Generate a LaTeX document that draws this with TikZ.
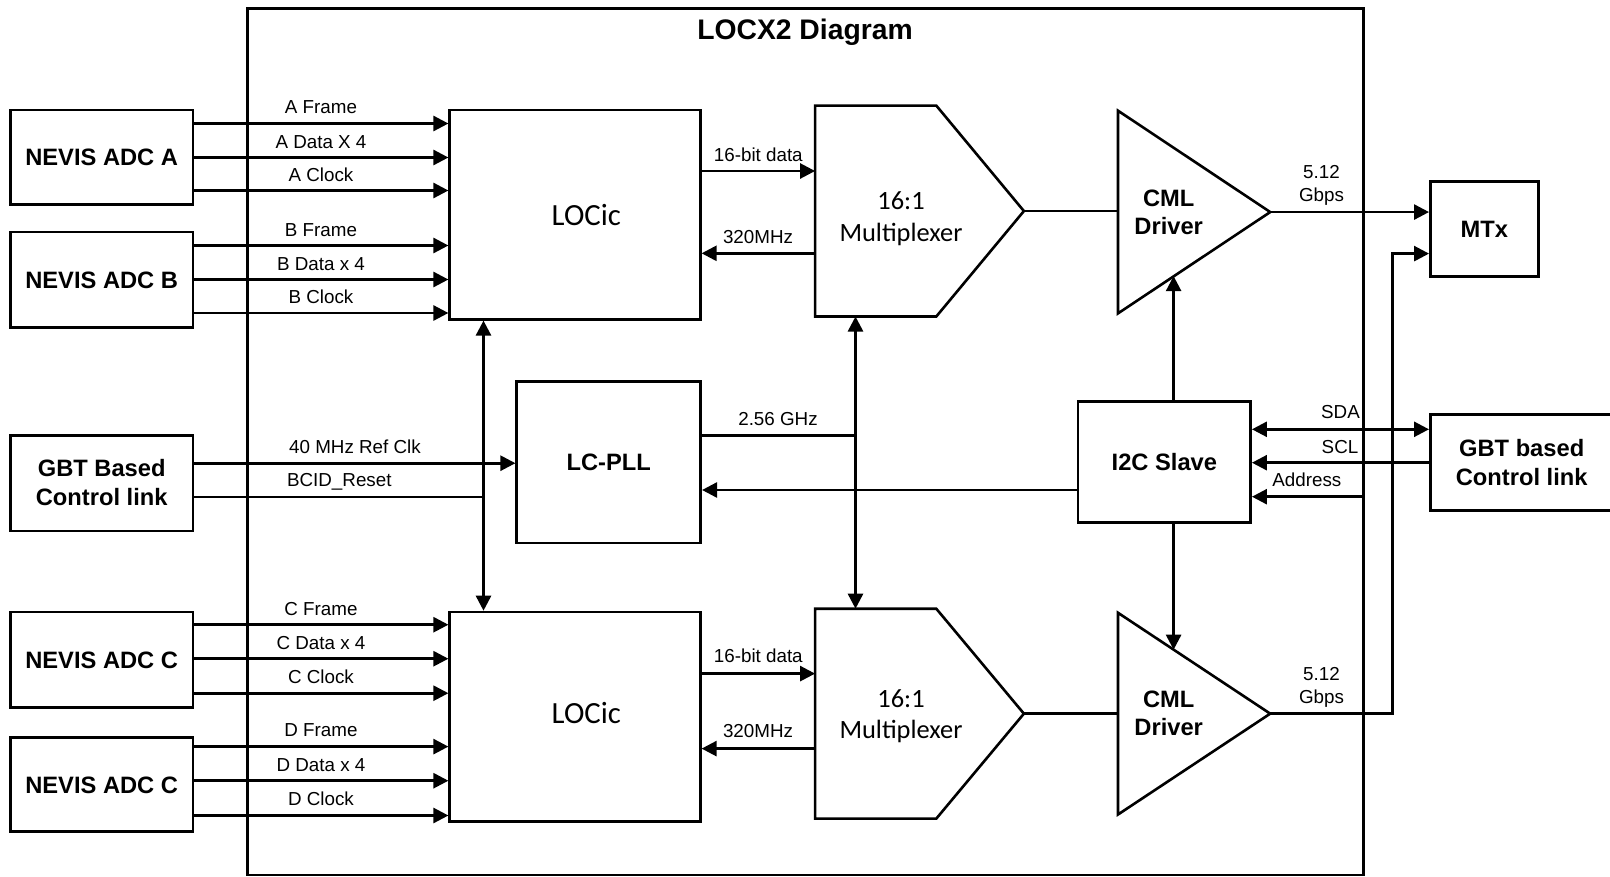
\documentclass[tikz,border=0pt]{standalone}
\usepackage{fontspec}
\setmainfont{Liberation Sans}
\newfontfamily\calibrifont{Carlito}
\usetikzlibrary{arrows.meta,calc}
\tikzset{
  ln/.style={line width=2.6pt},
  conn/.style={ln, -{Triangle[length=15pt,width=15pt]}},
  dconn/.style={ln, {Triangle[length=15pt,width=15pt]}-{Triangle[length=15pt,width=15pt]}},
  lbl/.style={inner sep=0pt, font=\fontsize{18.8}{22}\selectfont, text height=13.5pt, text depth=0pt},
  btxt/.style={inner sep=0pt, font=\fontsize{23.7}{28}\selectfont\bfseries, text height=17pt, text depth=0pt},
  mtxt/.style={inner sep=0pt, font=\fontsize{26.4}{30}\selectfont\calibrifont, text height=17pt, text depth=0pt},
  ltxt/.style={inner sep=0pt, font=\fontsize{30.8}{34}\selectfont\calibrifont, text height=19.8pt, text depth=0pt},
  box/.style={draw, ln, btxt},
  frame/.style={inner sep=0pt},
}
\begin{document}
\begin{tikzpicture}[x=1pt,y=-1pt]
\useasboundingbox (0,0) rectangle (1610,876);
\fill[white] (0,0) rectangle (1610,876);

% chip outline and title
\node[draw, ln, inner sep=0pt, minimum width=1116pt, minimum height=866.8pt] (chip) at (805.5,441.6) {};
\node[btxt, font=\fontsize{28.3}{32}\selectfont\bfseries, text height=20.3pt] (title) at (805,29) {LOCX2 Diagram};

% left boxes
\node[box, minimum width=182.7pt, minimum height=94.4pt] (adcA) at (101.7,157.1) {NEVIS ADC A};
\node[box, minimum width=182.7pt, minimum height=95.6pt] (adcB) at (101.7,279.8) {NEVIS ADC B};
\node[box, minimum width=182.7pt, minimum height=95.5pt] (gbtL) at (101.7,483.2) {};
\node[btxt] (gbtLt1) at (101.7,468.3) {GBT Based};
\node[btxt] (gbtLt2) at (101.7,496.8) {Control link};
\node[box, minimum width=182.7pt, minimum height=95.5pt] (adcC) at (101.7,659.8) {NEVIS ADC C};
\node[box, minimum width=182.7pt, minimum height=94.4pt] (adcD) at (101.7,784.5) {NEVIS ADC C};

% LOCic blocks
\node[box, minimum width=250.6pt, minimum height=209.4pt] (locT) at (575,214.6) {};
\node[ltxt] (locTt) at (586.3,215.6) {LOCic};
\node[box, minimum width=250.6pt, minimum height=209.4pt] (locB) at (575,716.7) {};
\node[ltxt] (locBt) at (586.3,714) {LOCic};

% LC-PLL, I2C, MTx, GBT right
\node[box, minimum width=184pt, minimum height=161.5pt] (pll) at (608.75,462.3) {LC-PLL};
\node[box, minimum width=172.5pt, minimum height=121.1pt] (i2c) at (1164.4,462) {I2C Slave};
\node[box, minimum width=107.9pt, minimum height=94.5pt] (mtx) at (1484.3,229) {MTx};
\node[box, minimum width=200pt, minimum height=95.5pt] (gbtR) at (1530.3,462.5) {};
\node[btxt] (gbtRt1) at (1521.7,448.3) {GBT based};
\node[btxt] (gbtRt2) at (1521.7,476.6) {Control link};

% multiplexers
\node[frame, minimum width=208.4pt, minimum height=210.5pt] (muxT) at (919.5,211.05) {};
\draw[ln] (muxT.north west) -- ++(121.2,0) -- (muxT.east) -- ($(muxT.south west)+(121.2,0)$) -- (muxT.south west) -- cycle;
\node[mtxt] (muxTt1) at (901,201) {16:1};
\node[mtxt] (muxTt2) at (901,233) {Multiplexer};
\node[frame, minimum width=208.4pt, minimum height=209.5pt] (muxB) at (919.5,713.65) {};
\draw[ln] (muxB.north west) -- ++(121.2,0) -- (muxB.east) -- ($(muxB.south west)+(121.2,0)$) -- (muxB.south west) -- cycle;
\node[mtxt] (muxBt1) at (901,698.5) {16:1};
\node[mtxt] (muxBt2) at (901,730) {Multiplexer};

% CML drivers
\node[frame, minimum width=151.8pt, minimum height=202.3pt] (cmlT) at (1194.1,212.05) {};
\draw[ln] (cmlT.north west) -- (cmlT.east) -- (cmlT.south west) -- cycle;
\node[btxt] (cmlTt1) at (1168.7,197.5) {CML};
\node[btxt] (cmlTt2) at (1168.7,226) {Driver};
\node[frame, minimum width=151.8pt, minimum height=201.3pt] (cmlB) at (1194.1,713.65) {};
\draw[ln] (cmlB.north west) -- (cmlB.east) -- (cmlB.south west) -- cycle;
\node[btxt] (cmlBt1) at (1168.7,698.5) {CML};
\node[btxt] (cmlBt2) at (1168.7,727) {Driver};

% ADC -> LOCic connectors
\foreach \y/\n in {123.5/ra1,157.5/ra2,190.5/ra3}{
  \coordinate (\n) at (0,\y);
  \draw[conn] (adcA.east |- \n) -- (locT.west |- \n);}
\foreach \y/\n in {245.5/rb1,279.5/rb2,313/rb3}{
  \coordinate (\n) at (0,\y);
  \draw[conn] (adcB.east |- \n) -- (locT.west |- \n);}
\foreach \y/\n in {624.7/rc1,658.7/rc2,693.2/rc3}{
  \coordinate (\n) at (0,\y);
  \draw[conn] (adcC.east |- \n) -- (locB.west |- \n);}
\foreach \y/\n in {746.6/rd1,780.7/rd2,815.5/rd3}{
  \coordinate (\n) at (0,\y);
  \draw[conn] (adcD.east |- \n) -- (locB.west |- \n);}

\node[lbl] (lA1) at (321,106.7) {A Frame};
\node[lbl] (lA2) at (321,141.7) {A Data X 4};
\node[lbl] (lA3) at (321,175) {A Clock};
\node[lbl] (lB1) at (321,229.5) {B Frame};
\node[lbl] (lB2) at (321,263.5) {B Data x 4};
\node[lbl] (lB3) at (321,297) {B Clock};
\node[lbl] (lC1) at (321,608.5) {C Frame};
\node[lbl] (lC2) at (321,643) {C Data x 4};
\node[lbl] (lC3) at (321,676.5) {C Clock};
\node[lbl] (lD1) at (321,730) {D Frame};
\node[lbl] (lD2) at (321,764.5) {D Data x 4};
\node[lbl] (lD3) at (321,798.5) {D Clock};

% GBT left -> PLL / reset
\coordinate (rclk) at (0,463.2);
\draw[conn] (gbtL.east |- rclk) -- (pll.west |- rclk);
\node[lbl] (lclk) at (355,447) {40 MHz Ref Clk};
\coordinate (vl) at (483.5,496.8);
\draw[ln] (gbtL.east |- vl) -- (vl);
\node[lbl] (lbcid) at (339.3,480) {BCID\_Reset};
\draw[dconn] (locT.south -| vl) -- (locB.north -| vl);

% PLL -> multiplexers
\coordinate (vm) at (855.5,435.7);
\draw[ln] (pll.east |- vm) -- (vm);
\node[lbl] (lghz) at (778,418.3) {2.56 GHz};
\draw[dconn] (muxT.south -| vm) -- (muxB.north -| vm);

% LOCic <-> mux
\coordinate (d16t) at (0,171);
\draw[conn] (locT.east |- d16t) -- (muxT.west |- d16t);
\node[lbl] (l16t) at (758.3,155) {16-bit data};
\coordinate (c320t) at (0,253.3);
\draw[conn] (muxT.west |- c320t) -- (locT.east |- c320t);
\node[lbl] (l320t) at (758,236.7) {320MHz};
\coordinate (d16b) at (0,673.6);
\draw[conn] (locB.east |- d16b) -- (muxB.west |- d16b);
\node[lbl] (l16b) at (758.3,655.3) {16-bit data};
\coordinate (c320b) at (0,748.6);
\draw[conn] (muxB.west |- c320b) -- (locB.east |- c320b);
\node[lbl] (l320b) at (758,730.5) {320MHz};

% mux -> CML
\draw[ln] (muxT.east) -- (muxT.east -| cmlT.west);
\draw[ln] (muxB.east) -- (muxB.east -| cmlB.west);

% CML -> MTx
\draw[conn] (cmlT.east) -- (mtx.west |- cmlT.east);
\node[lbl] (lgT1) at (1321.5,172) {5.12};
\node[lbl] (lgT2) at (1321.5,195) {Gbps};
\coordinate (jct) at (1392.7,253.6);
\draw[conn] (cmlB.east) -| (jct) -- (mtx.west |- jct);
\node[lbl] (lgB1) at (1321.5,673.8) {5.12};
\node[lbl] (lgB2) at (1321.5,696.6) {Gbps};

% I2C connections
\coordinate (cmlTin) at (1173.6,276.1);
\coordinate (cmlBin) at (1173.6,649.7);
\draw[conn] (i2c.north -| cmlTin) -- (cmlTin);
\draw[conn] (i2c.south -| cmlBin) -- (cmlBin);
\coordinate (rpll) at (0,490);
\draw[conn] (i2c.west |- rpll) -- (pll.east |- rpll);
\coordinate (rsda) at (0,429.3);
\draw[dconn] (i2c.east |- rsda) -- (gbtR.west |- rsda);
\node[lbl, anchor=east] (lsda) at (1360,412) {SDA};
\coordinate (rscl) at (0,462.7);
\draw[conn] (gbtR.west |- rscl) -- (i2c.east |- rscl);
\node[lbl, anchor=east] (lscl) at (1358.5,446.3) {SCL};
\coordinate (radr) at (0,496.7);
\draw[conn] (chip.east |- radr) -- (i2c.east |- radr);
\node[lbl, anchor=east] (ladr) at (1341.5,480) {Address};
\end{tikzpicture}
\end{document}
